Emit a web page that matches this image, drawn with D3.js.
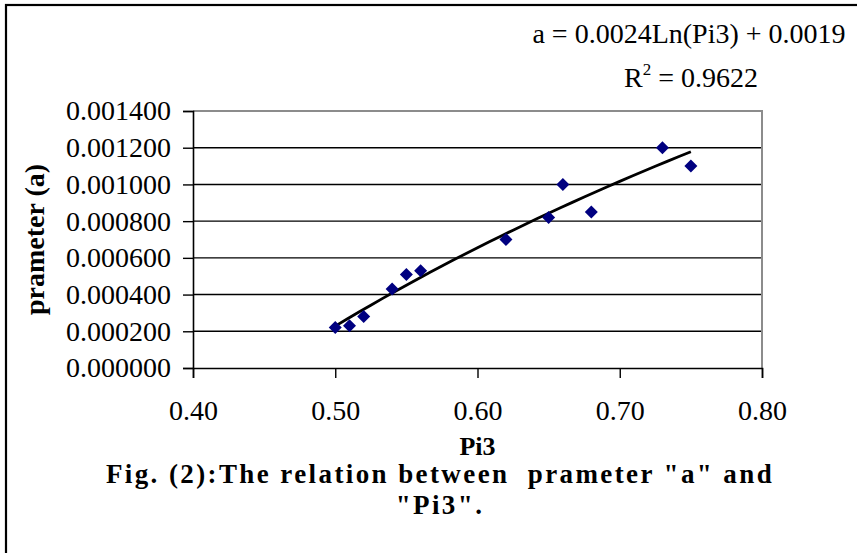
<!DOCTYPE html>
<html>
<head>
<meta charset="utf-8">
<script src="https://cdn.jsdelivr.net/npm/d3@7/dist/d3.min.js"></script>
<style>
  html, body { margin: 0; padding: 0; background: #fff; }
  svg { display: block; }
  text { font-family: "Liberation Serif", "Times New Roman", serif; fill: #000; }
</style>
</head>
<body>
<svg id="chart" width="857" height="553"></svg>
<script>
// ---- data ----
const pi3 = [0.50, 0.51, 0.52, 0.54, 0.55, 0.56, 0.62, 0.65, 0.66, 0.68, 0.73, 0.75];
const paramA = [0.00022, 0.00023, 0.00028, 0.00043, 0.00051, 0.00053, 0.00070, 0.00082, 0.00100, 0.00085, 0.00120, 0.00110];
const xTicks = [0.40, 0.50, 0.60, 0.70, 0.80];
const yTicks = [0, 0.0002, 0.0004, 0.0006, 0.0008, 0.0010, 0.0012, 0.0014];
const equationText = "a = 0.0024Ln(Pi3) + 0.0019";
const r2Value = "0.9622";
const xTitle = "Pi3";
const yTitle = "prameter (a)";
const captionLines = ["Fig. (2):The relation between\u00A0 prameter \"a\" and", "\"Pi3\"."];

// ---- layout ----
const svg = d3.select("#chart");
const plot = { left: 193, right: 762, top: 111, bottom: 368 };

const x = d3.scaleLinear().domain([0.40, 0.80]).range([plot.left, plot.right]);
const y = d3.scaleLinear().domain([0, 0.0014]).range([plot.bottom, plot.top]);

// outer frame (only top/left visible in the crop)
svg.append("rect").attr("x", 6).attr("y", 5).attr("width", 900).attr("height", 600)
  .attr("fill", "none").attr("stroke", "#000").attr("stroke-width", 2.2);

// plot area border (gray, top & right)
svg.append("path")
  .attr("d", `M${plot.left},${plot.top}H${plot.right}V${plot.bottom}`)
  .attr("fill", "none").attr("stroke", "#8c8c8c").attr("stroke-width", 2);

// gridlines
svg.append("g").selectAll("line").data(yTicks.filter(d => d > 0 && d < 0.0014)).join("line")
  .attr("x1", plot.left).attr("x2", plot.right - 1)
  .attr("y1", d => y(d)).attr("y2", d => y(d))
  .attr("stroke", "#000").attr("stroke-width", 1.4);

// y axis
const yAxis = svg.append("g").attr("transform", `translate(${plot.left},0)`)
  .call(d3.axisLeft(y).tickValues(yTicks).tickFormat(d3.format(".6f")).tickSize(10).tickPadding(12));
yAxis.select(".domain").attr("stroke", "#000").attr("stroke-width", 1.6);
yAxis.selectAll(".tick line").attr("stroke", "#000").attr("stroke-width", 1.4);
yAxis.selectAll("text").attr("font-size", 28).attr("font-family", "Liberation Serif").attr("fill", "#000");

// x axis
const xAxis = svg.append("g").attr("transform", `translate(0,${plot.bottom})`)
  .call(d3.axisBottom(x).tickValues(xTicks).tickFormat(d3.format(".2f")).tickSize(10).tickPadding(22));
xAxis.select(".domain").attr("stroke", "#000").attr("stroke-width", 1.6);
xAxis.selectAll(".tick line").attr("stroke", "#000").attr("stroke-width", 1.4);
xAxis.selectAll("text").attr("font-size", 28).attr("font-family", "Liberation Serif").attr("fill", "#000");

// logarithmic trend line (least squares on ln x)
const lx = pi3.map(Math.log);
const mx = d3.mean(lx), my = d3.mean(paramA);
const slope = d3.sum(lx, (v, i) => (v - mx) * (paramA[i] - my)) / d3.sum(lx, v => (v - mx) ** 2);
const intercept = my - slope * mx;
const [xmin, xmax] = d3.extent(pi3);
const trend = d3.range(0, 31).map(i => {
  const xv = xmin + (xmax - xmin) * i / 30;
  return [xv, intercept + slope * Math.log(xv)];
});
svg.append("path").datum(trend)
  .attr("d", d3.line().x(d => x(d[0])).y(d => y(d[1])))
  .attr("fill", "none").attr("stroke", "#000").attr("stroke-width", 2.8).attr("stroke-linejoin", "round");

// data points (navy diamonds)
svg.append("g").selectAll("path").data(pi3).join("path")
  .attr("transform", (d, i) => `translate(${x(d)},${y(paramA[i])})`)
  .attr("d", "M0,-6.5L6.5,0L0,6.5L-6.5,0Z")
  .attr("fill", "#000080");

// equation
const eq = svg.append("g");
eq.append("text").attr("x", 689).attr("y", 43).attr("text-anchor", "middle")
  .attr("font-size", 28).text(equationText);
const r2 = eq.append("text").attr("x", 691).attr("y", 87).attr("text-anchor", "middle").attr("font-size", 28);
r2.append("tspan").text("R");
r2.append("tspan").attr("font-size", 17).attr("dy", -12).text("2");
r2.append("tspan").attr("dy", 12).text(" = " + r2Value);

// axis titles
svg.append("text").attr("x", (plot.left + plot.right) / 2).attr("y", 455)
  .attr("text-anchor", "middle").attr("font-size", 26).attr("font-weight", "bold").text(xTitle);
svg.append("text").attr("transform", `translate(44,${(plot.top + plot.bottom) / 2}) rotate(-90)`)
  .attr("text-anchor", "middle").attr("font-size", 28).attr("font-weight", "bold").text(yTitle);

// caption
svg.append("g").selectAll("text").data(captionLines).join("text")
  .attr("x", 440).attr("y", (d, i) => 483 + i * 31)
  .attr("text-anchor", "middle").attr("font-size", 27).attr("font-weight", "bold")
  .attr("letter-spacing", 2.4)
  .style("white-space", "pre").text(d => d);
</script>
</body>
</html>
